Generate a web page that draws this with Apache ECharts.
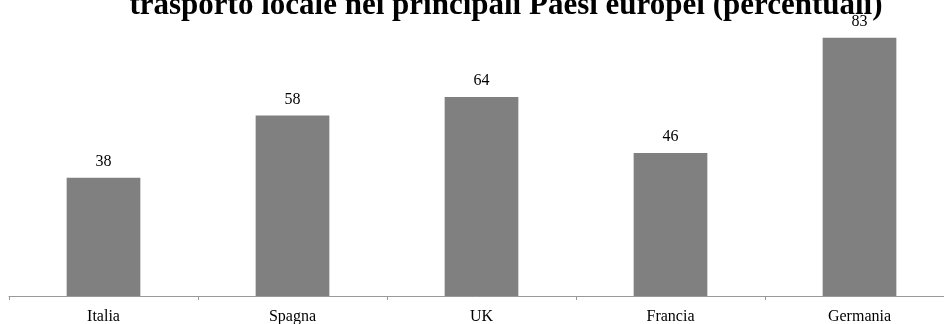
<!DOCTYPE html>
<html><head><meta charset="utf-8">
<script src="https://cdn.jsdelivr.net/npm/echarts@6/dist/echarts.min.js"></script>
<style>html,body{margin:0;padding:0;background:#fff}#c{width:944px;height:324px}</style>
</head><body><div id="c"></div>
<script>
const categories = ['Italia', 'Spagna', 'UK', 'Francia', 'Germania'];
const values = [38, 58, 64, 46, 83];
const titleText = 'trasporto locale nei principali Paesi europei (percentuali)';

const chart = echarts.init(document.getElementById('c'), null, {renderer: 'canvas'});
chart.setOption({
  animation: false,
  backgroundColor: '#fff',
  title: {
    text: titleText,
    left: 501,
    top: -15,
    textAlign: 'center',
    textStyle: {fontFamily: 'Liberation Serif', fontWeight: 'bold', fontSize: 31, color: '#000'}
  },
  grid: {left: 9, width: 945, top: 16, height: 280, outerBoundsMode: 'none', containLabel: false},
  xAxis: {
    type: 'category',
    data: categories,
    axisLine: {lineStyle: {color: '#999', width: 1}},
    axisTick: {show: true, length: 4, lineStyle: {color: '#999'}},
    axisLabel: {fontFamily: 'Liberation Serif', fontSize: 16, color: '#000', margin: 13}
  },
  yAxis: {
    type: 'value', min: 0, max: 90,
    show: false,
    splitLine: {show: false}
  },
  series: [{
    type: 'bar',
    data: values,
    barWidth: '39%',
    itemStyle: {color: '#808080'},
    label: {show: true, position: 'top', distance: 8, fontFamily: 'Liberation Serif', fontSize: 16, color: '#000'}
  }]
});
</script></body></html>
